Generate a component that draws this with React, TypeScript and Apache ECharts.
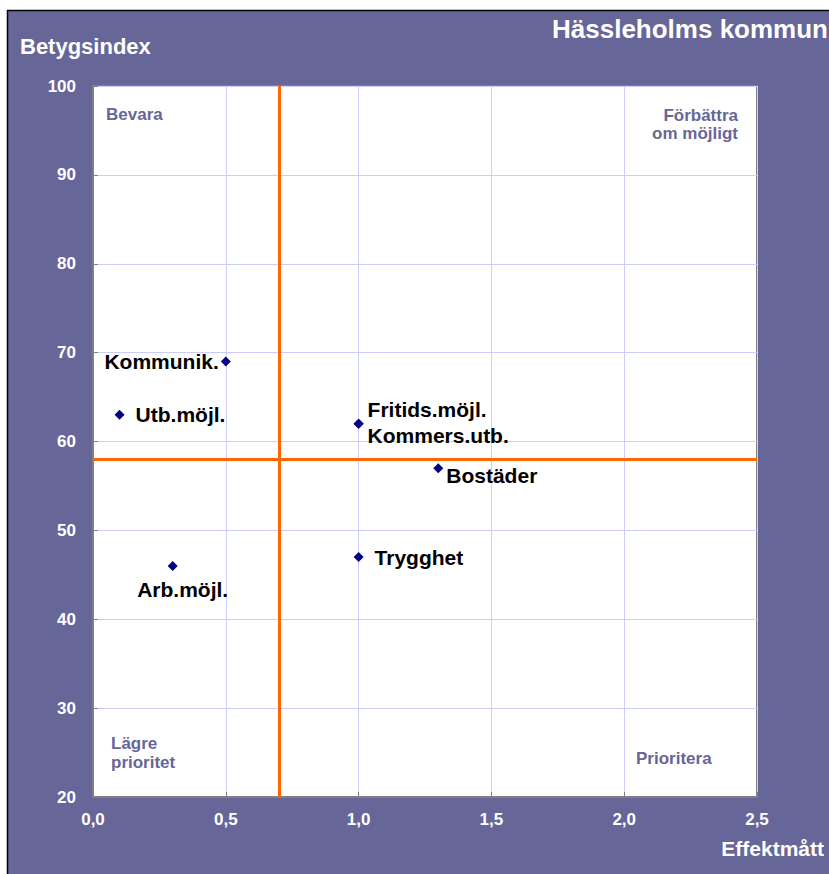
import React, { useEffect, useRef } from "react";
import * as echarts from "echarts";

const pointNames = ["Kommunik.", "Utb.möjl.", "Fritids.möjl.", "Kommers.utb.", "Bostäder", "Trygghet", "Arb.möjl."];
const effektValues = [0.5, 0.1, 1.0, 1.0, 1.3, 1.0, 0.3];
const betygValues = [69, 63, 62, 62, 57, 47, 46];

const xMin = 0;
const xMax = 2.5;
const xStep = 0.5;
const yMin = 20;
const yMax = 100;
const yStep = 10;

const effektThreshold = 0.7;
const betygThreshold = 58;

const chartTitle = "Hässleholms kommun";
const yAxisTitle = "Betygsindex";
const xAxisTitle = "Effektmått";
const quadrantBevara = "Bevara";
const quadrantForbattra1 = "Förbättra";
const quadrantForbattra2 = "om möjligt";
const quadrantLagre1 = "Lägre";
const quadrantLagre2 = "prioritet";
const quadrantPrioritera = "Prioritera";

// label placement styles (per point name)
const labelStyles: Record<string, { align: string; offset: number[] }> = {
  "Kommunik.": { align: "right", offset: [-7, 0] },
  "Utb.möjl.": { align: "left", offset: [16, 0] },
  "Fritids.möjl.": { align: "left", offset: [9, -14] },
  "Kommers.utb.": { align: "left", offset: [9, 12] },
  "Bostäder": { align: "left", offset: [8, 7] },
  "Trygghet": { align: "left", offset: [16, 0] },
  "Arb.möjl.": { align: "center", offset: [10, 24] },
};

const PURPLE = "#666699";
const FONT = "'Liberation Sans', Arial, sans-serif";

export default function App() {
  const ref = useRef<HTMLDivElement>(null);

  useEffect(() => {
    if (!ref.current) return;
    const chart = echarts.init(ref.current, undefined, { renderer: "svg" });

    const data = pointNames.map((name, i) => {
      const ls = labelStyles[name];
      return {
        name,
        value: [effektValues[i], betygValues[i]],
        label: {
          show: true,
          position: "inside",
          align: ls.align,
          verticalAlign: "middle",
          offset: ls.offset,
          formatter: name,
        },
      };
    });

    const fmtComma = (v: number) => v.toFixed(1).replace(".", ",");

    const qText = (x: number, y: number, text: string, align: string) => ({
      type: "text",
      x,
      y,
      style: {
        text,
        fill: PURPLE,
        font: `bold 17px ${FONT}`,
        textAlign: align,
        textVerticalAlign: "middle",
      },
    });

    chart.setOption({
      animation: false,
      backgroundColor: PURPLE,
      textStyle: { fontFamily: FONT },
      grid: {
        left: 93,
        top: 86,
        width: 664,
        height: 711,
        show: true,
        backgroundColor: "#ffffff",
        borderColor: "#808080",
        borderWidth: 2,
      },
      xAxis: {
        type: "value",
        min: xMin,
        max: xMax,
        interval: xStep,
        axisLine: { show: true, onZero: false, lineStyle: { color: "#808080", width: 2 } },
        axisTick: { show: true, inside: true, length: 5, lineStyle: { color: "#808080", width: 1 } },
        splitLine: { show: true, lineStyle: { color: "#CCCCFF", width: 1 } },
        axisLabel: {
          color: "#ffffff",
          fontWeight: "bold",
          fontSize: 17,
          fontFamily: FONT,
          margin: 14,
          formatter: (v: number) => fmtComma(v),
        },
      },
      yAxis: {
        type: "value",
        min: yMin,
        max: yMax,
        interval: yStep,
        axisLine: { show: true, onZero: false, lineStyle: { color: "#808080", width: 2 } },
        axisTick: { show: true, inside: true, length: 5, lineStyle: { color: "#808080", width: 1 } },
        splitLine: { show: true, lineStyle: { color: "#CCCCFF", width: 1 } },
        axisLabel: {
          color: "#ffffff",
          fontWeight: "bold",
          fontSize: 17,
          fontFamily: FONT,
          margin: 17,
        },
      },
      series: [
        {
          type: "scatter",
          symbol: "diamond",
          symbolSize: 10,
          itemStyle: { color: "#000080", opacity: 1 },
          label: {
            color: "#000000",
            fontWeight: "bold",
            fontSize: 21,
            fontFamily: FONT,
          },
          data,
          markLine: {
            silent: true,
            symbol: "none",
            label: { show: false },
            lineStyle: { color: "#FF6600", width: 3, type: "solid", opacity: 1 },
            data: [{ xAxis: effektThreshold }, { yAxis: betygThreshold }],
          },
        },
      ],
      graphic: [
        { type: "rect", shape: { x: 0, y: 0, width: 829, height: 10 }, style: { fill: "#ffffff" } },
        { type: "rect", shape: { x: 0, y: 0, width: 7, height: 874 }, style: { fill: "#ffffff" } },
        { type: "line", shape: { x1: 7, y1: 10.5, x2: 829, y2: 10.5 }, style: { stroke: "#000000", lineWidth: 1.5 } },
        { type: "line", shape: { x1: 7.5, y1: 10, x2: 7.5, y2: 874 }, style: { stroke: "#000000", lineWidth: 1.5 } },
        {
          type: "text",
          x: 552,
          y: 29,
          style: {
            text: chartTitle,
            fill: "#ffffff",
            font: `bold 26px ${FONT}`,
            textAlign: "left",
            textVerticalAlign: "middle",
          },
        },
        {
          type: "text",
          x: 20,
          y: 46,
          style: {
            text: yAxisTitle,
            fill: "#ffffff",
            font: `bold 22px ${FONT}`,
            textAlign: "left",
            textVerticalAlign: "middle",
          },
        },
        {
          type: "text",
          x: 824,
          y: 848,
          style: {
            text: xAxisTitle,
            fill: "#ffffff",
            font: `bold 21px ${FONT}`,
            textAlign: "right",
            textVerticalAlign: "middle",
          },
        },
        qText(106, 114, quadrantBevara, "left"),
        qText(738, 115, quadrantForbattra1, "right"),
        qText(738, 133, quadrantForbattra2, "right"),
        qText(111, 743, quadrantLagre1, "left"),
        qText(111, 762, quadrantLagre2, "left"),
        qText(636, 758, quadrantPrioritera, "left"),
      ],
    });

    return () => {
      chart.dispose();
    };
  }, []);

  return (
    <div
      ref={ref}
      style={{ position: "absolute", left: 0, top: 0, width: 829, height: 874 }}
    />
  );
}
